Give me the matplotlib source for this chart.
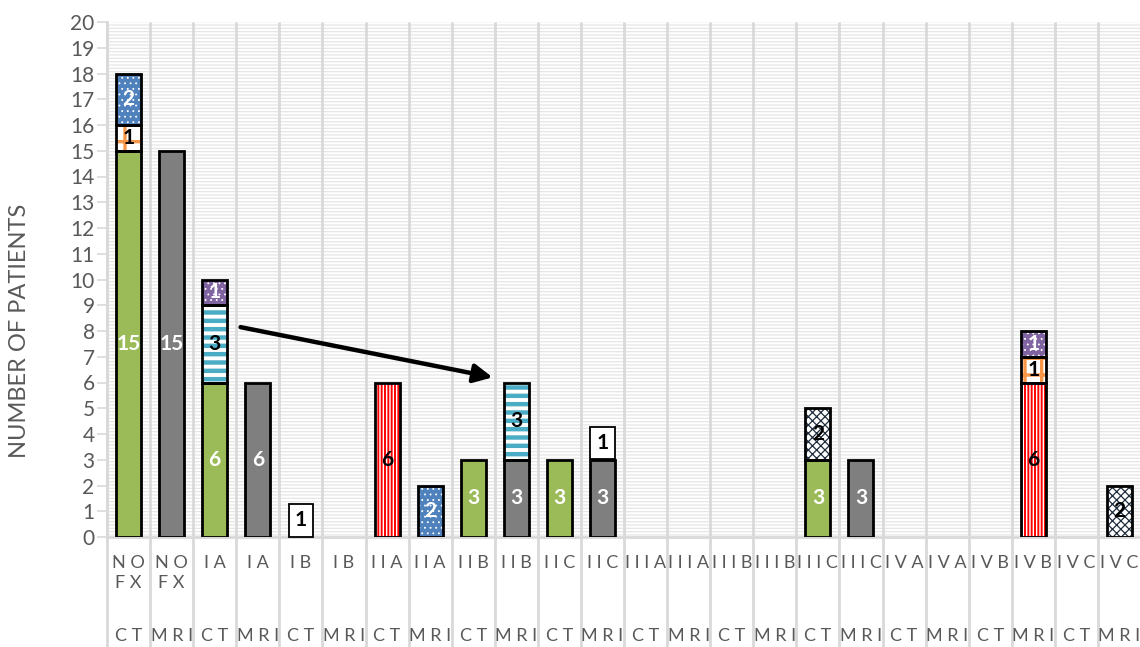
import matplotlib
matplotlib.use("Agg")
import matplotlib.pyplot as plt
import numpy as np

# ---------------- data ----------------
stages = ["N O\nF X", "I A", "I B", "I I A", "I I B", "I I C",
          "I I I A", "I I I B", "I I I C", "I V A", "I V B", "I V C"]
modalities = ["C T", "M R I"]
categories = [(s, m) for s in stages for m in modalities]

green   = [15, 0, 6, 0, 0, 0, 0, 0, 3, 0, 3, 0, 0, 0, 0, 0, 3, 0, 0, 0, 0, 0, 0, 0]
grey    = [0, 15, 0, 6, 0, 0, 0, 0, 0, 3, 0, 3, 0, 0, 0, 0, 0, 3, 0, 0, 0, 0, 0, 0]
red     = [0, 0, 0, 0, 0, 0, 6, 0, 0, 0, 0, 0, 0, 0, 0, 0, 0, 0, 0, 0, 0, 6, 0, 0]
teal    = [0, 0, 3, 0, 0, 0, 0, 0, 0, 3, 0, 0, 0, 0, 0, 0, 0, 0, 0, 0, 0, 0, 0, 0]
orange  = [1, 0, 0, 0, 0, 0, 0, 0, 0, 0, 0, 0, 0, 0, 0, 0, 0, 0, 0, 0, 0, 1, 0, 0]
lattice = [0, 0, 0, 0, 0, 0, 0, 0, 0, 0, 0, 0, 0, 0, 0, 0, 2, 0, 0, 0, 0, 0, 0, 2]
white   = [0, 0, 0, 0, 1, 0, 0, 0, 0, 0, 0, 1, 0, 0, 0, 0, 0, 0, 0, 0, 0, 0, 0, 0]
blue    = [2, 0, 0, 0, 0, 0, 0, 2, 0, 0, 0, 0, 0, 0, 0, 0, 0, 0, 0, 0, 0, 0, 0, 0]
purple  = [0, 0, 1, 0, 0, 0, 0, 0, 0, 0, 0, 0, 0, 0, 0, 0, 0, 0, 0, 0, 0, 1, 0, 0]

yticks = list(range(0, 21))
ylabel = "NUMBER OF PATIENTS"

# series styles: (values, facecolor, hatchcolor, hatch, hatch lw, label colour, boxed)
series = [
    (green,   "#9BBB59", None,      None,    0,   "white", False),
    (grey,    "#7F7F7F", None,      None,    0,   "white", False),
    (red,     "white",   "#FF0000", "|||||", 1.4, "black", False),
    (teal,    "white",   "#4BACC6", "--",    3.2, "black", False),
    (orange,  "white",   "#F79646", "+",     2.4, "black", False),
    (lattice, "white",   "#1F2D3D", "xxxx",  0.9, "black", False),
    (white,   "white",   None,      None,    0,   "black", True),
    (blue,    "#4F81BD", "white",   "...",   0.6, "white", False),
    (purple,  "#8064A2", "white",   "...",   0.6, "white", False),
]

plt.rcParams['font.family'] = ['Lato', 'DejaVu Sans']

W, H = 1140, 647
fig = plt.figure(figsize=(W / 100, H / 100), dpi=100)
left_px, right_px, bottom_px, top_px = 107, 1141, 537, 22
ax = fig.add_axes([left_px / W, (H - bottom_px) / H,
                   (right_px - left_px) / W, (bottom_px - top_px) / H])

n = len(categories)
x = np.arange(n)

# background: fine horizontal stripes
ax.set_facecolor("white")
with plt.rc_context({'hatch.linewidth': 0.8}):
    bg = plt.Rectangle((0, 0), 1, 1, transform=ax.transAxes, facecolor="white",
                       edgecolor="#E4E4E4", linewidth=0, hatch="-----", zorder=0)
if hasattr(bg, "set_hatch_linewidth"):
    bg.set_hatch_linewidth(0.8)
ax.add_patch(bg)

# category separators (extend through the label area)
bounds = np.arange(n + 1) - 0.5
ax.vlines(bounds, -4.5, 20, colors="#D9D9D9", linewidth=2, clip_on=False, zorder=1)

width = 0.58
bottom = np.zeros(n)
for vals, fc, hc, hatch, hlw, lc, boxed in series:
    vals = np.array(vals, dtype=float)
    m = vals > 0
    xs, vs, bs = x[m], vals[m], bottom[m]
    if boxed:
        for xi, vi, bi in zip(xs, vs, bs):
            ax.text(xi, bi + vi * 0.65, f"{int(vi)}", ha="center", va="center",
                    fontsize=15, fontweight="bold", color=lc, zorder=6,
                    bbox=dict(boxstyle="square,pad=0.3", fc="white",
                              ec="black", lw=1.3))
    else:
        if hatch is not None:
            with plt.rc_context({'hatch.linewidth': hlw}):
                bars = ax.bar(xs, vs, width, bottom=bs, facecolor=fc, edgecolor=hc,
                              linewidth=0, hatch=hatch, zorder=3)
            for b in bars:
                if hasattr(b, "set_hatch_linewidth"):
                    b.set_hatch_linewidth(hlw)
            ax.bar(xs, vs, width, bottom=bs, fill=False, edgecolor="black",
                   linewidth=2, zorder=4)
        else:
            bars = ax.bar(xs, vs, width, bottom=bs, facecolor=fc,
                          edgecolor="black", linewidth=2, zorder=4)
        ax.bar_label(bars, labels=[f"{int(v)}" for v in vs], label_type="center",
                     color=lc, fontsize=15, fontweight="bold", zorder=6)
    bottom += vals

# arrow
ax.annotate("", xy=(8.45, 6.2), xytext=(2.6, 8.15),
            arrowprops=dict(arrowstyle="-|>", lw=3.2, color="black",
                            mutation_scale=28, shrinkA=0, shrinkB=0), zorder=7)

ax.set_xlim(-0.5, n - 0.5)
ax.set_ylim(0, 20)
ax.set_yticks(yticks)
ax.tick_params(axis="y", length=7, width=1.2, color="#D9D9D9",
               labelcolor="#595959", labelsize=15, pad=2)
ax.set_xticks([])
for s in ["top", "right"]:
    ax.spines[s].set_visible(False)
ax.spines["left"].set_color("#D9D9D9")
ax.spines["left"].set_linewidth(2)
ax.spines["bottom"].set_color("#D9D9D9")
ax.spines["bottom"].set_linewidth(2)

ax.set_ylabel(ylabel, color="#595959", fontsize=17)
ax.yaxis.set_label_coords(-0.0745, 0.40)

for i, (s, mo) in enumerate(categories):
    ax.text(i, -0.68, s, ha="center", va="top", fontsize=13, color="#595959",
            linespacing=1.35, clip_on=False)
    ax.text(i, -3.83, mo, ha="center", va="center", fontsize=13, color="#595959",
            clip_on=False)

fig.savefig("out.png", dpi=100)
